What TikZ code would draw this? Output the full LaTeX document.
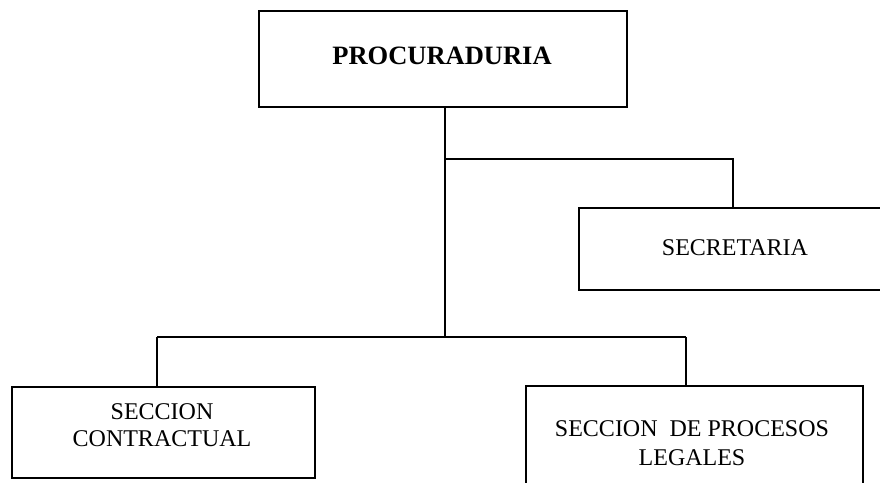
\documentclass[tikz,border=0pt]{standalone}
\usepackage{fontspec}
\setmainfont{Liberation Serif}
\begin{document}
\begin{tikzpicture}[x=1pt,y=-1pt,
  box/.style={draw, line width=1.5pt, rectangle, inner sep=0pt, anchor=north west},
  conn/.style={line width=1.5pt},
  lbl/.style={align=center, font=\fontsize{24}{27}\selectfont, inner sep=0pt},
  title/.style={font=\fontsize{26.5}{30}\selectfont\bfseries, inner sep=0pt}]
\useasboundingbox (0,0) rectangle (880,482);
\clip (0,0) rectangle (880,482);
\fill[white] (0,0) rectangle (880,482);
% boxes
\node[box, minimum width=368pt, minimum height=96pt] (p) at (258,10) {};
\node[box, minimum width=316pt, minimum height=82pt] (s) at (578,207) {};
\node[box, minimum width=303pt, minimum height=91pt] (c) at (11,386) {};
\node[box, minimum width=337pt, minimum height=115pt] (l) at (525,385) {};
% labels
\node[title] (pt) at (442,56) {PROCURADURIA};
\node[lbl] (st) at (735,248) {SECRETARIA};
\node[lbl] (ct) at (162,425) {SECCION\\CONTRACTUAL};
\node[lbl, font=\fontsize{24}{29}\selectfont] (lt) at (692,443) {SECCION\ \ DE PROCESOS\\LEGALES};
% connectors
\coordinate (j1) at (445,159);
\coordinate (j2) at (445,337);
\coordinate (cc) at (157,337);
\coordinate (cl) at (686,337);
\coordinate (cs) at (733,159);
\draw[conn] (p.south -| j1) -- (j2);
\draw[conn] (j1) -- (cs) -- (cs |- s.north);
\draw[conn] (cc) -- (cl);
\draw[conn] (cc) -- (cc |- c.north);
\draw[conn] (cl) -- (cl |- l.north);
\end{tikzpicture}
\end{document}
